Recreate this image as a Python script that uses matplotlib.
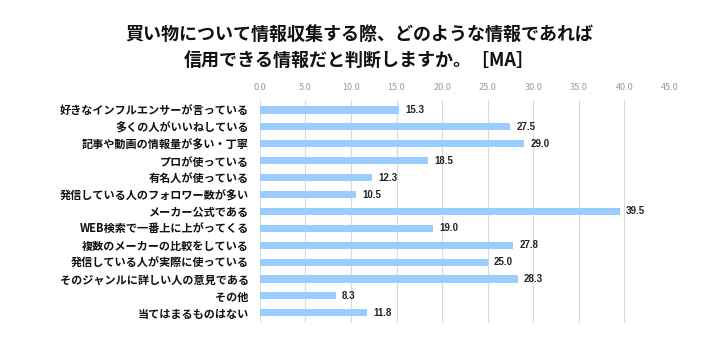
import matplotlib
matplotlib.use("Agg")
import matplotlib.pyplot as plt

plt.rcParams['font.family'] = ['Noto Sans CJK JP', 'DejaVu Sans']

# データ
categories = [
    "好きなインフルエンサーが言っている",
    "多くの人がいいねしている",
    "記事や動画の情報量が多い・丁寧",
    "プロが使っている",
    "有名人が使っている",
    "発信している人のフォロワー数が多い",
    "メーカー公式である",
    "WEB検索で一番上に上がってくる",
    "複数のメーカーの比較をしている",
    "発信している人が実際に使っている",
    "そのジャンルに詳しい人の意見である",
    "その他",
    "当てはまるものはない",
]
values = [15.3, 27.5, 29.0, 18.5, 12.3, 10.5, 39.5, 19.0, 27.8, 25.0, 28.3, 8.3, 11.8]
ticks = [0, 5, 10, 15, 20, 25, 30, 35, 40, 45]

fig = plt.figure(figsize=(7.18, 3.58), dpi=100)
ax = fig.add_axes([0.362, 0.098, 0.571, 0.623])

y = list(range(len(categories)))
ax.barh(y, values, height=0.42, color="#99ccff", zorder=3)
for yi, v in zip(y, values):
    ax.text(v + 0.7, yi, f"{v:.1f}", va="center", ha="left", fontsize=7,
            fontweight="bold", color="#222222", family="Liberation Sans")

ax.set_xlim(0, 45)
ax.set_ylim(len(categories) - 0.4, -0.6)
ax.set_xticks(ticks)
ax.set_xticklabels([f"{t:.1f}" for t in ticks], fontsize=6.5, color="#999999")
ax.xaxis.tick_top()
ax.tick_params(axis="x", length=0, pad=6)
ax.tick_params(axis="y", length=0, pad=8)
ax.set_yticks(y)
ax.set_yticklabels(categories, fontsize=8, fontweight="bold", color="#111111")
ax.grid(axis="x", color="#d9d9d9", linewidth=0.8, zorder=0)
for s in ax.spines.values():
    s.set_visible(False)

fig.text(0.5, 0.905, "買い物について情報収集する際、どのような情報であれば", ha="center",
         va="center", fontsize=13, fontweight="bold", color="#111111")
fig.text(0.5, 0.83, "信用できる情報だと判断しますか。［MA］", ha="center",
         va="center", fontsize=13, fontweight="bold", color="#111111")

fig.savefig("out.png", dpi=100, facecolor="white")
